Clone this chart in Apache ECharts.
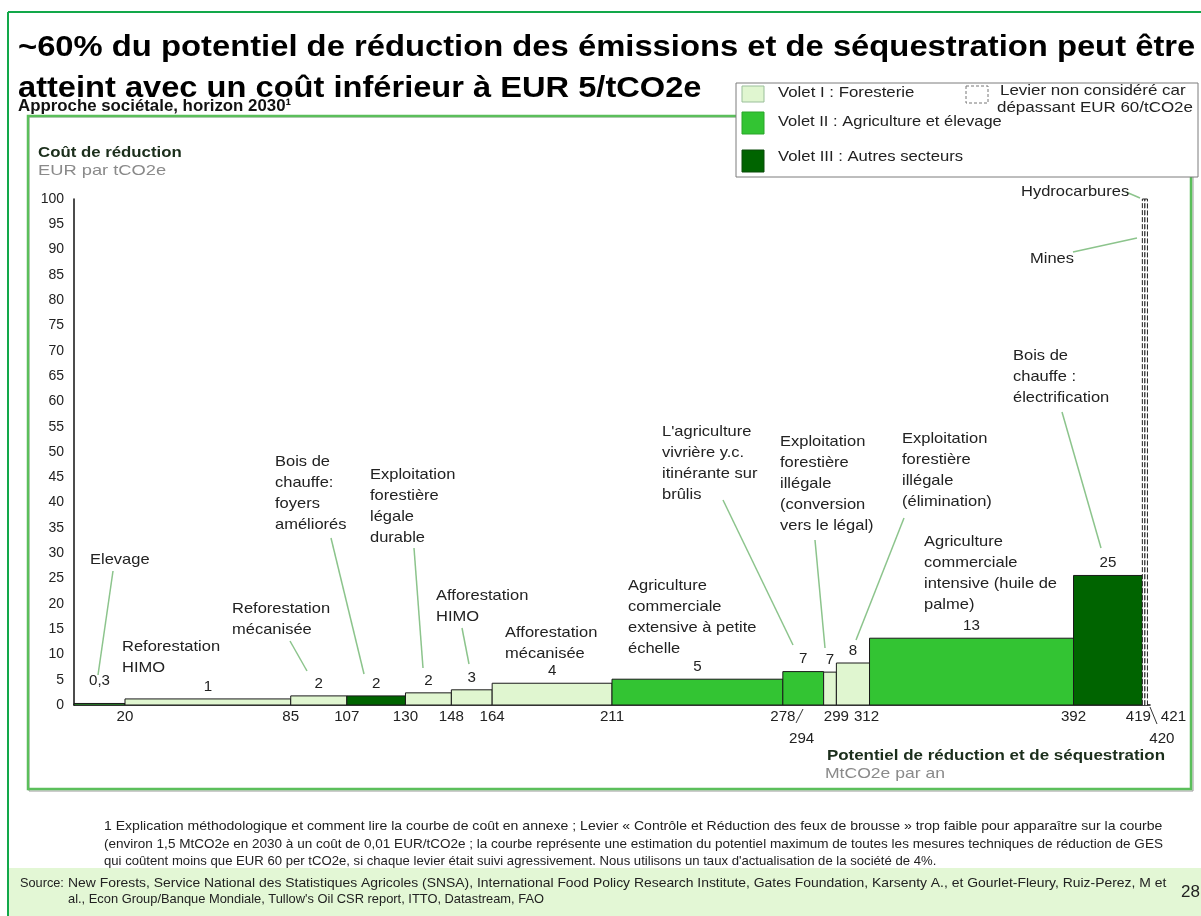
<!DOCTYPE html>
<html>
<head>
<meta charset="utf-8">
<script src="https://cdn.jsdelivr.net/npm/echarts@6/dist/echarts.min.js"></script>
<style>html,body{margin:0;padding:0;background:#fff;}#c{width:1201px;height:916px;}</style>
</head>
<body>
<div id="c"></div>
<script>
// ---------- DATA ----------
const categories = ["Elevage","Reforestation HIMO","Reforestation mécanisée","Bois de chauffe: foyers améliorés","Exploitation forestière légale durable","Afforestation HIMO","Afforestation mécanisée","Agriculture commerciale extensive à petite échelle","L'agriculture vivrière y.c. itinérante sur brûlis","Exploitation forestière illégale (conversion vers le légal)","Exploitation forestière illégale (élimination)","Agriculture commerciale intensive (huile de palme)","Bois de chauffe : électrification","Mines","Hydrocarbures"];
const xStart = [0,20,85,107,130,148,164,211,278,294,299,312,392,419,420];
const xEnd   = [20,85,107,130,148,164,211,278,294,299,312,392,419,420,421];
const cost   = [0.3,1.2,1.8,1.8,2.4,3,4.3,5.1,6.6,6.5,8.3,13.2,25.6,100,100];
const costLabels = ["0,3","1","2","2","2","3","4","5","7","7","8","13","25","",""];
const volet  = [2,1,1,3,1,1,1,2,2,1,1,2,3,0,0]; // 0 = lever above EUR 60 (dashed)
const xTicks = [20,85,107,130,148,164,211,278,294,299,312,392,419,420,421];
const xTickLabels = ["20","85","107","130","148","164","211","278","294","299","312","392","419","420","421"];
const yTicks = [0,5,10,15,20,25,30,35,40,45,50,55,60,65,70,75,80,85,90,95,100];

// ---------- STYLE / LAYOUT ----------
const FONT = '"Liberation Sans", Arial, sans-serif';
const voletColors = {0:'#ffffff',1:'#e0f6d0',2:'#33c433',3:'#006400'};
const tickOffset = {294:[-22,22],420:[17,22],421:[26,0],419:[-4,0],312:[-3,0]};
const valueLabelOffset = {0:-10};
const annot = [
  {t:"Elevage", x:90, y:549, l:[113,571,98,675]},
  {t:"Reforestation\nHIMO", x:122, y:636},
  {t:"Reforestation\nmécanisée", x:232, y:598, l:[290,641,307,671]},
  {t:"Bois de\nchauffe:\nfoyers\naméliorés", x:275, y:451, l:[331,538,364,674]},
  {t:"Exploitation\nforestière\nlégale\ndurable", x:370, y:464, l:[414,548,423,668]},
  {t:"Afforestation\nHIMO", x:436, y:585, l:[462,628,469,664]},
  {t:"Afforestation\nmécanisée", x:505, y:622},
  {t:"Agriculture\ncommerciale\nextensive à petite\néchelle", x:628, y:575},
  {t:"L'agriculture\nvivrière y.c.\nitinérante sur\nbrûlis", x:662, y:421, l:[723,500,793,645]},
  {t:"Exploitation\nforestière\nillégale\n(conversion\nvers le légal)", x:780, y:431, l:[815,540,825,648]},
  {t:"Exploitation\nforestière\nillégale\n(élimination)", x:902, y:428, l:[904,518,856,640]},
  {t:"Agriculture\ncommerciale\nintensive (huile de\npalme)", x:924, y:531},
  {t:"Bois de\nchauffe :\nélectrification", x:1013, y:345, l:[1062,412,1101,548]},
  {t:"Mines", x:1030, y:248, l:[1073,252,1137,238]},
  {t:"Hydrocarbures", x:1021, y:181, l:[1126,192,1140,198]}
];

function txt(x, y, text, font, fill, sx, extra) {
  return {type:'text', x:x, y:y, scaleX:sx||1, style:Object.assign({text:text, font:font, fill:fill}, extra||{})};
}

const chart = echarts.init(document.getElementById('c'), null, {renderer:'canvas'});

const graphics = [];
graphics.push({type:'line', shape:{x1:8,y1:12,x2:1201,y2:12}, style:{stroke:'#12a84a',lineWidth:2}});
graphics.push({type:'line', shape:{x1:8,y1:12,x2:8,y2:916}, style:{stroke:'#12a84a',lineWidth:2}});
graphics.push({type:'rect', shape:{x:9,y:868,width:1192,height:48}, style:{fill:'#e3f7d5'}, z:-10});
graphics.push({type:'rect', shape:{x:29,y:117,width:1164,height:674}, style:{fill:'none',stroke:'#9a9a9a',lineWidth:1}, z:-5});
graphics.push({type:'rect', shape:{x:28,y:116,width:1163,height:673}, style:{fill:'none',stroke:'#5bbf5b',lineWidth:2.5}, z:-5});
// title
graphics.push(txt(18, 33, '~60% du potentiel de réduction des émissions et de séquestration peut être', 'bold 29px '+FONT, '#000', 1.13));
graphics.push(txt(18, 74, 'atteint avec un coût inférieur à EUR 5/tCO2e', 'bold 29px '+FONT, '#000', 1.125));
graphics.push(txt(18, 98, 'Approche sociétale, horizon 2030¹', 'bold 17px '+FONT, '#111', 0.99));
// axis titles
graphics.push(txt(38, 145, 'Coût de réduction', 'bold 15px '+FONT, '#1b2e1b', 1.12));
graphics.push(txt(38, 163, 'EUR par tCO2e', '15px '+FONT, '#8a8a8a', 1.22));
graphics.push(txt(1165, 748, 'Potentiel de réduction et de séquestration', 'bold 15px '+FONT, '#1b2e1b', 1.13, {align:'right'}));
graphics.push(txt(825, 766, 'MtCO2e par an', '15px '+FONT, '#8a8a8a', 1.17));
// legend box
graphics.push({type:'group', x:736, y:83, z:50, children:[
  {type:'rect', shape:{x:0,y:0,width:462,height:94}, style:{fill:'#fff',stroke:'#7d7d7d',lineWidth:1}},
  {type:'rect', shape:{x:6,y:3,width:22,height:16}, style:{fill:voletColors[1],stroke:'#9bbf9b',lineWidth:1}},
  {type:'rect', shape:{x:6,y:29,width:22,height:22}, style:{fill:voletColors[2],stroke:'#2aa52a',lineWidth:1}},
  {type:'rect', shape:{x:6,y:67,width:22,height:22}, style:{fill:voletColors[3],stroke:'#0a4a0a',lineWidth:1}},
  {type:'rect', shape:{x:230,y:3,width:22,height:17}, style:{fill:'#fff',stroke:'#777',lineWidth:1,lineDash:[3,2]}},
  txt(42, 2, 'Volet I : Foresterie', '15px '+FONT, '#222', 1.12),
  txt(42, 31, 'Volet II : Agriculture et élevage', '15px '+FONT, '#222', 1.10),
  txt(42, 66, 'Volet III : Autres secteurs', '15px '+FONT, '#222', 1.11),
  txt(264, 0, 'Levier non considéré car', '15px '+FONT, '#222', 1.13),
  txt(261, 17, 'dépassant EUR 60/tCO2e', '15px '+FONT, '#222', 1.13)
]});
annot.forEach(a => {
  if (a.l) graphics.push({type:'line', shape:{x1:a.l[0],y1:a.l[1],x2:a.l[2],y2:a.l[3]}, style:{stroke:'#8cc48c',lineWidth:1.5}, z:5});
  const e = txt(a.x, a.y, a.t, '15px '+FONT, '#222', 1.1, {lineHeight:21});
  e.z = 6;
  graphics.push(e);
});
graphics.push({type:'line', shape:{x1:803,y1:709,x2:796,y2:723}, style:{stroke:'#333',lineWidth:1}});
graphics.push({type:'line', shape:{x1:1150,y1:707,x2:1157,y2:724}, style:{stroke:'#333',lineWidth:1}});
const foot = ["1 Explication méthodologique et comment lire la courbe de coût en annexe ; Levier « Contrôle et Réduction des feux de brousse » trop faible pour apparaître sur la courbe",
"(environ 1,5 MtCO2e en 2030 à un coût de 0,01 EUR/tCO2e ; la courbe représente une estimation du potentiel maximum de toutes les mesures techniques de réduction de GES",
"qui coûtent moins que EUR 60 per tCO2e, si chaque levier était suivi agressivement. Nous utilisons un taux d'actualisation de la société de 4%."];
const footScale = [1.08, 1.04, 1.01];
foot.forEach((t,i)=>graphics.push(txt(104, 820+i*17.5, t, '13px '+FONT, '#222', footScale[i])));
graphics.push(txt(20, 877, 'Source:', '13px '+FONT, '#222', 0.98));
graphics.push(txt(68, 877, 'New Forests, Service National des Statistiques Agricoles (SNSA), International Food Policy Research Institute, Gates Foundation, Karsenty A., et Gourlet-Fleury, Ruiz-Perez, M et', '13px '+FONT, '#222', 1.07));
graphics.push(txt(68, 893, "al., Econ Group/Banque Mondiale, Tullow's Oil CSR report, ITTO, Datastream, FAO", '13px '+FONT, '#222', 0.99));
graphics.push(txt(1181, 884, '28', '17px '+FONT, '#222', 1.0));

const barData = xStart.map((s,i)=>[s, xEnd[i], cost[i], volet[i], i]);

chart.setOption({
  animation:false,
  backgroundColor:'#fff',
  grid:{left:74, top:199, right:51, bottom:211},
  xAxis:{type:'value', min:0, max:422, axisLine:{show:true, lineStyle:{color:'#111', width:1.5}}, axisTick:{show:false}, axisLabel:{show:false}, splitLine:{show:false}},
  yAxis:{type:'value', min:0, max:100, interval:5, axisLine:{show:true, lineStyle:{color:'#111', width:1.5}}, axisTick:{show:false}, splitLine:{show:false},
    axisLabel:{color:'#222', fontSize:14, fontFamily:FONT, margin:10, customValues:yTicks}},
  graphic:graphics,
  series:[
    {type:'custom', name:'Leviers', data:barData, clip:false, z:3,
      encode:{x:[0,1], y:2},
      renderItem:function(params, api){
        const x0=api.value(0), x1=api.value(1), h=api.value(2), v=api.value(3), idx=api.value(4);
        const p0=api.coord([x0,0]), p1=api.coord([x1,h]);
        const children=[{type:'rect', shape:{x:p0[0], y:p1[1], width:p1[0]-p0[0], height:p0[1]-p1[1]},
          style: v===0 ? {fill:'#fff', stroke:'#222', lineWidth:1, lineDash:[5,2]} : {fill:voletColors[v], stroke:'#1a1a1a', lineWidth:1}}];
        const lab=costLabels[idx];
        if (lab) children.push({type:'text', x:(p0[0]+p1[0])/2, y:p1[1]-5+(valueLabelOffset[idx]||0), scaleX:1.08, style:{text:lab, font:'14px '+FONT, fill:'#222', align:'center', verticalAlign:'bottom'}});
        return {type:'group', children:children};
      }
    },
    {type:'custom', name:'ticks', data:xTicks.map((t,i)=>[t,i]), clip:false, silent:true, z:4,
      encode:{x:0},
      renderItem:function(params, api){
        const t=api.value(0), i=api.value(1);
        const p=api.coord([t,0]);
        const off=tickOffset[t]||[0,0];
        return {type:'text', x:p[0]+off[0], y:p[1]+5+off[1], scaleX:1.08, style:{text:xTickLabels[i], font:'14px '+FONT, fill:'#222', align:'center', verticalAlign:'top'}};
      }
    }
  ]
});
</script>
</body>
</html>
